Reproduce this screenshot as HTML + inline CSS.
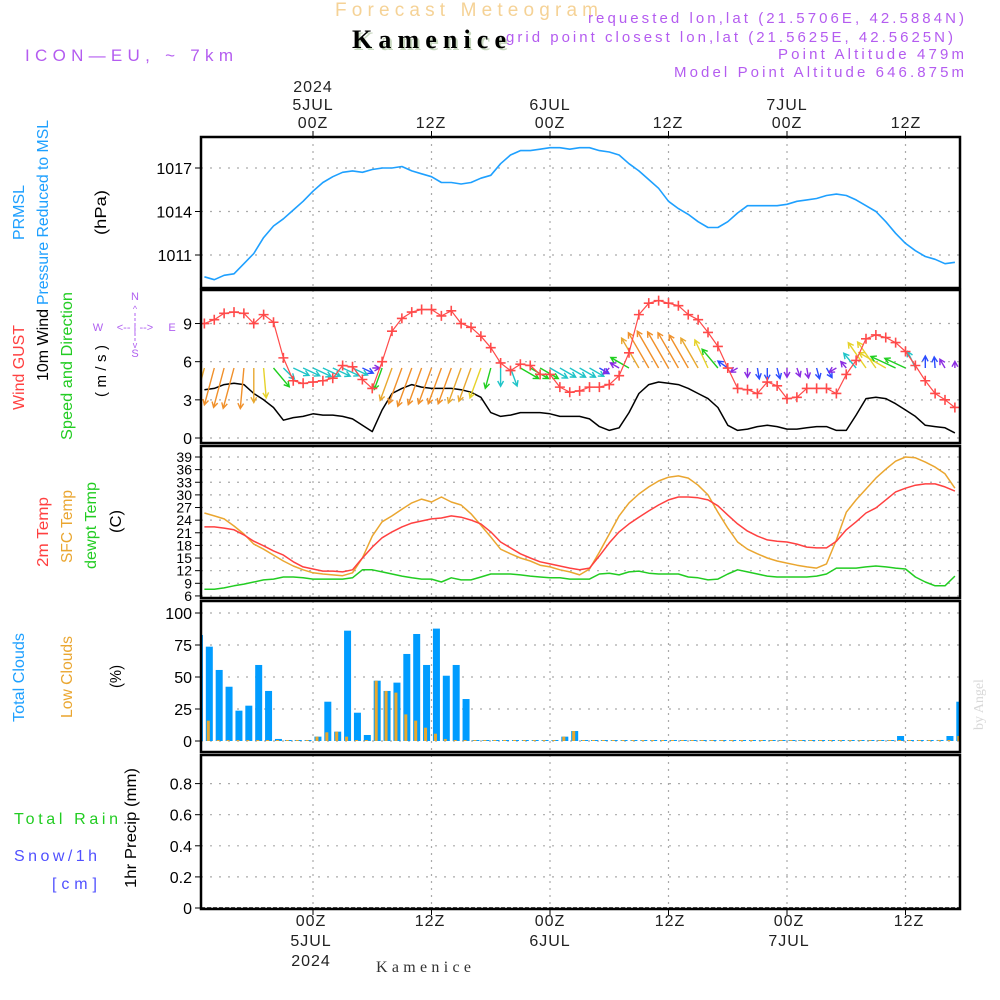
<!DOCTYPE html>
<html><head><meta charset="utf-8"><style>
html,body{margin:0;padding:0;background:#fff;}
svg{display:block;font-family:"Liberation Sans",sans-serif;}
</style></head><body>
<svg id="chart" width="1000" height="1000" viewBox="0 0 1000 1000" xmlns="http://www.w3.org/2000/svg">
<defs>
<clipPath id="cp"><rect x="201" y="137" width="759" height="772"/></clipPath>
</defs>
<g>
<text x="335" y="16" font-size="19" fill="#f5d296" textLength="263" lengthAdjust="spacing">Forecast Meteogram</text>
<text x="354" y="50" font-size="26" font-weight="bold" font-family="Liberation Serif,serif" fill="#c8d8c0" textLength="154" lengthAdjust="spacing">Kamenice</text>
<text x="352" y="48" font-size="26" font-weight="bold" font-family="Liberation Serif,serif" fill="#000" textLength="154" lengthAdjust="spacing">Kamenice</text>
<text x="25" y="61" font-size="17" fill="#b45cf0" textLength="208" lengthAdjust="spacing">ICON—EU, ~ 7km</text>
<g font-size="15" fill="#b45cf0">
<text x="588" y="23" textLength="376" lengthAdjust="spacing">requested lon,lat (21.5706E, 42.5884N)</text>
<text x="506" y="42" textLength="447" lengthAdjust="spacing">grid point closest lon,lat (21.5625E, 42.5625N)</text>
<text x="778" y="59" textLength="186" lengthAdjust="spacing">Point Altitude 479m</text>
<text x="674" y="77" textLength="290" lengthAdjust="spacing">Model Point Altitude 646.875m</text>
</g>
</g>
<g font-size="16" fill="#222" text-anchor="middle" letter-spacing="1">
<text x="313" y="92">2024</text><text x="313" y="110">5JUL</text><text x="313" y="128">00Z</text>
<text x="431" y="128">12Z</text>
<text x="550" y="110">6JUL</text><text x="550" y="128">00Z</text>
<text x="668" y="128">12Z</text>
<text x="787" y="110">7JUL</text><text x="787" y="128">00Z</text>
<text x="906" y="128">12Z</text>
</g>
<g font-size="16" fill="#222" text-anchor="middle" letter-spacing="1">
<text x="311" y="926">00Z</text><text x="311" y="946">5JUL</text><text x="311" y="966">2024</text>
<text x="430" y="926">12Z</text>
<text x="550" y="926">00Z</text><text x="550" y="946">6JUL</text>
<text x="670" y="926">12Z</text>
<text x="789" y="926">00Z</text><text x="789" y="946">7JUL</text>
<text x="909" y="926">12Z</text>
<text x="424" y="972" font-size="16" font-family="Liberation Serif,serif" fill="#333" textLength="96" lengthAdjust="spacing">Kamenice</text>
</g>
<g font-size="16">
<text transform="translate(24,240) rotate(-90)" fill="#1ea0ff" textLength="55" lengthAdjust="spacingAndGlyphs">PRMSL</text>
<text transform="translate(48,305) rotate(-90)" fill="#1ea0ff" textLength="185" lengthAdjust="spacingAndGlyphs">Pressure Reduced to MSL</text>
<text transform="translate(106,235) rotate(-90)" fill="#000" textLength="45" lengthAdjust="spacingAndGlyphs">(hPa)</text>
<text transform="translate(24,410) rotate(-90)" fill="#ff4040" textLength="85" lengthAdjust="spacingAndGlyphs">Wind GUST</text>
<text transform="translate(48,381) rotate(-90)" fill="#000" textLength="72" lengthAdjust="spacingAndGlyphs">10m Wind</text>
<text transform="translate(72,440) rotate(-90)" fill="#22cc22" textLength="148" lengthAdjust="spacingAndGlyphs">Speed and Direction</text>
<text transform="translate(106,397) rotate(-90)" fill="#000" font-size="15" textLength="52" lengthAdjust="spacing">(m/s)</text>
<text transform="translate(48,567) rotate(-90)" fill="#ff4040" textLength="70" lengthAdjust="spacingAndGlyphs">2m Temp</text>
<text transform="translate(72,563) rotate(-90)" fill="#eaa630" textLength="73" lengthAdjust="spacingAndGlyphs">SFC Temp</text>
<text transform="translate(96,569) rotate(-90)" fill="#22cc22" textLength="87" lengthAdjust="spacingAndGlyphs">dewpt Temp</text>
<text transform="translate(121,533) rotate(-90)" fill="#000" textLength="23" lengthAdjust="spacingAndGlyphs">(C)</text>
<text transform="translate(24,722) rotate(-90)" fill="#1ea0ff" textLength="89" lengthAdjust="spacingAndGlyphs">Total Clouds</text>
<text transform="translate(72,718) rotate(-90)" fill="#eaa630" textLength="82" lengthAdjust="spacingAndGlyphs">Low Clouds</text>
<text transform="translate(121,688) rotate(-90)" fill="#000" textLength="23" lengthAdjust="spacingAndGlyphs">(%)</text>
<text transform="translate(136,888) rotate(-90)" fill="#000" textLength="120" lengthAdjust="spacingAndGlyphs">1hr Precip (mm)</text>
<text x="14" y="824" fill="#22cc22" textLength="104" lengthAdjust="spacing">Total   Rain</text>
<text x="14" y="861" fill="#5050ff" textLength="83" lengthAdjust="spacing">Snow/1h</text>
<text x="52" y="889" fill="#5050ff" textLength="45" lengthAdjust="spacing">[cm]</text>
</g>
<g font-size="11" fill="#b060f0" text-anchor="middle">
<text x="135" y="300">N</text><text x="135" y="357">S</text><text x="98" y="331">W</text><text x="172" y="331">E</text>
<text x="135" y="331" font-size="11">&lt;-- | --&gt;</text>
<text x="135" y="312" font-size="9">^</text>
<text x="135" y="348" font-size="9">v</text>
<line x1="135" y1="313" x2="135" y2="342" stroke="#b060f0" stroke-dasharray="3,2"/>
</g>
<text transform="translate(983,730) rotate(-90)" font-size="14" font-family="Liberation Serif,serif" fill="#d8d8d8">by Angel</text>
<g id="grid"></g>
<g id="marks" clip-path="url(#cp)"></g>
<g id="frames"></g>
<g id="ticks"></g>
</svg>
<script>
// time axis: hours relative to 00Z 5JUL
var hours = [];
for (var h = -11; h <= 65; h++) hours.push(h);
var barTimes = [];
for (var b = -11.5; b <= 65.5; b += 1) barTimes.push(b);
var gridHours = [0, 12, 24, 36, 48, 60];

var pressure = [1009.5,1009.3,1009.6,1009.7,1010.4,1011.1,1012.2,1013.0,1013.5,1014.1,
1014.7,1015.4,1016.0,1016.4,1016.7,1016.8,1016.7,1016.9,1017.0,1017.0,
1017.1,1016.8,1016.6,1016.4,1016.0,1016.0,1015.9,1016.0,1016.3,1016.5,
1017.3,1017.9,1018.2,1018.2,1018.3,1018.4,1018.4,1018.3,1018.4,1018.4,
1018.2,1018.1,1017.9,1017.3,1016.8,1016.2,1015.6,1014.7,1014.2,1013.8,
1013.3,1012.9,1012.9,1013.3,1013.9,1014.4,1014.4,1014.4,1014.4,1014.5,
1014.7,1014.8,1014.9,1015.1,1015.2,1015.1,1014.8,1014.4,1014.0,1013.3,
1012.5,1011.8,1011.3,1010.9,1010.7,1010.4,1010.5];
var gust = [9.0,9.3,9.8,9.9,9.8,9.0,9.7,9.1,6.3,4.5,
4.3,4.4,4.5,4.7,5.7,5.6,4.6,3.9,6.0,8.4,
9.4,9.9,10.1,10.1,9.6,10.0,9.0,8.7,8.0,7.1,
5.9,5.3,5.8,5.7,5.0,5.0,4.0,3.6,3.7,4.0,
4.0,4.2,4.9,6.7,9.7,10.6,10.8,10.6,10.4,9.7,
9.3,8.3,7.2,5.5,3.9,3.8,3.5,4.4,4.1,3.1,
3.2,3.9,3.9,3.9,3.5,5.0,6.1,7.8,8.1,7.9,
7.5,6.8,5.7,4.5,3.5,3.0,2.4];
var windSpeed = [3.8,3.9,4.2,4.3,4.2,3.5,3.0,2.4,1.4,1.6,
1.7,1.9,1.8,1.8,1.7,1.5,1.0,0.5,2.2,3.5,
3.9,4.2,4.0,3.9,3.9,3.9,3.8,3.6,3.2,2.0,
1.7,1.8,2.0,2.0,2.0,1.9,1.7,1.7,1.7,1.5,
0.9,0.6,0.8,2.0,3.5,4.2,4.4,4.3,4.2,3.9,
3.5,3.1,2.4,1.0,0.6,0.7,0.9,1.0,0.9,0.7,
0.7,0.8,0.9,0.9,0.6,0.6,1.8,3.1,3.2,3.1,
2.7,2.2,1.7,1.0,0.9,0.8,0.4];
var windDir = [15,15,15,15,5,0,355,320,
315,295,295,295,295,295,295,295,295,
270,20,
20,20,20,20,20,20,20,20,20,20,
15,0,340,
300,300,300,300,300,300,300,300,300,
45,120,
120,150,150,150,150,150,150,150,155,140,125,60,
0,350,0,345,0,340,350,345,330,
60,140,140,145,145,120,115,115,155,180,175,150,180];
var temp2m = [22.4,22.4,22.1,21.7,20.5,19.0,17.9,16.7,15.7,14.1,
12.9,12.4,11.9,11.9,11.7,12.2,15.0,17.6,19.8,21.2,
22.4,23.3,23.8,24.3,24.5,25.0,24.7,24.0,23.1,21.2,
18.8,17.4,16.0,15.0,14.1,13.6,13.1,12.6,12.2,12.6,
15.5,18.6,21.2,23.1,24.7,26.2,27.6,28.8,29.5,29.5,
29.3,28.8,27.4,25.2,23.1,21.4,20.2,19.3,19.0,18.8,
18.3,17.6,17.4,17.4,19.0,21.7,23.6,25.7,26.9,28.8,
30.7,31.6,32.3,32.6,32.6,31.9,30.9];
var tempSfc = [25.7,25.0,24.3,22.6,20.7,18.3,17.1,15.7,14.3,13.1,
12.2,11.5,11.2,11.0,10.8,11.5,15.0,20.2,23.6,25.0,
26.6,28.1,29.0,28.3,29.5,28.3,27.6,25.5,22.8,20.0,
17.1,16.0,15.0,14.3,13.3,12.9,12.2,11.7,11.0,12.4,
16.4,20.7,25.0,28.1,30.2,31.9,33.3,34.2,34.5,34.0,
32.3,30.0,25.9,22.1,18.8,17.1,16.0,15.0,14.3,13.8,
13.3,12.9,12.6,13.6,19.3,25.9,28.8,31.4,34.0,36.1,
38.0,39.0,38.8,37.8,36.6,35.0,31.6];
var dewpt = [7.6,7.6,7.9,8.4,8.8,9.3,9.8,10.0,10.5,10.5,
10.3,10.0,10.0,10.0,10.0,10.3,12.2,12.2,11.7,11.2,
10.7,10.3,10.0,10.0,9.3,10.3,9.8,9.8,10.5,11.2,
11.2,11.2,11.0,10.7,10.5,10.3,10.3,10.0,10.0,10.0,
11.2,11.4,11.0,11.7,11.9,11.4,11.2,11.2,11.2,10.5,
10.3,9.8,10.0,11.2,12.2,11.7,11.2,10.7,10.5,10.5,
10.5,10.5,10.7,11.2,12.6,12.6,12.6,12.9,13.1,12.9,
12.6,12.4,10.5,9.3,8.4,8.4,10.7];
var totalClouds = [82.8,73.7,55.5,42.4,23.7,27.6,59.4,39.1,1.6,0,
0,0,3.4,30.7,7.3,86.2,22.1,4.7,47.1,39.1,
45.6,68,83.6,59.4,87.8,51,59.4,32.8,0,0,
0,0,0,0,0,0,0,3.4,7.8,0,
0,0,0,0,0,0,0,0,0,0,
0,0,0,0,0,0,0,0,0,0,
0,0,0,0,0,0,0,0,0,0,
0,3.9,0,0,0,0.8,3.9,30.7];
var lowClouds = [18.2,15.9,0,0,0,0,0,0,0,0,
0,0,3.4,6.8,7.3,3.4,0,0,47.1,39.1,
37.8,20.8,15.9,10.4,5.7,1.6,0,0,0,0,
0,0,0,0,0,0,0,3.4,7.8,0,
0,0,0,0,0,0,0,0,0,0,
0,0,0,0,0,0,0,0,0,0,
0,0,0,0,0,0,0,0,0,0,
0,0,0,0,0,0,0,3.9];
var precip = [];
for (var q = 0; q < 78; q++) precip.push(0);

var pTicks = [1011, 1014, 1017];
var wTicks = [0, 3, 6, 9];
var tTicks = [6,9,12,15,18,21,24,27,30,33,36,39];
var cTicks = [0, 25, 50, 75, 100];
var rTicks = [0, 0.2, 0.4, 0.6, 0.8];
var rTickLabels = ["0", "0.2", "0.4", "0.6", "0.8"];

// axis functions
function xT(t){ return 313 + t * 9.875; }
function yP(p){ return 168 + (1017 - p) * 14.5; }
function yW(v){ return 438 - v * 12.72; }
function yT(T){ return 457 + (39 - T) * 4.21; }
function yC(c){ return 741 - c * 1.28; }
function yR(r){ return 908 - r * 155.5; }

var NS = "http://www.w3.org/2000/svg";
function mk(tag, attrs, parent){
  var e = document.createElementNS(NS, tag);
  for (var k in attrs) e.setAttribute(k, attrs[k]);
  parent.appendChild(e);
  return e;
}
var grid = document.getElementById('grid');
var marks = document.getElementById('marks');
var frames = document.getElementById('frames');
var ticks = document.getElementById('ticks');

var panels = [
  {name:'pressure', y0:137, y1:288, vals:pTicks, f:yP, labels:pTicks.map(String)},
  {name:'wind', y0:290, y1:443, vals:wTicks, f:yW, labels:wTicks.map(String)},
  {name:'temperature', y0:446, y1:598, vals:tTicks, f:yT, labels:tTicks.map(String)},
  {name:'clouds', y0:601, y1:752, vals:cTicks, f:yC, labels:cTicks.map(String)},
  {name:'precip', y0:755, y1:909, vals:rTicks, f:yR, labels:rTickLabels}
];
panels.forEach(function(p){
  gridHours.forEach(function(h){
    var l = mk('line', {x1:xT(h), x2:xT(h), y1:p.y0, y2:p.y1, stroke:'#aaa', 'stroke-width':1.2, 'stroke-dasharray':'2,5'}, grid);
    
    
  });
  p.vals.forEach(function(v, i){
    var y = p.f(v);
    var l = mk('line', {x1:201, x2:960, y1:y, y2:y, stroke:'#aaa', 'stroke-width':1.2, 'stroke-dasharray':'2,7'}, grid);
    
    
    var tk = mk('line', {x1:195, x2:201, y1:y, y2:y, stroke:'#000'}, ticks);
    
    
    var tx = mk('text', {x:192, y:y + (p.name === 'temperature' ? 5 : 6), 'text-anchor':'end', 'font-size': p.name === 'temperature' ? 14 : 16, fill:'#000'}, ticks);
    
    
    tx.textContent = p.labels[i];
  });
  var r = mk('rect', {x:201, y:p.y0, width:759, height:p.y1 - p.y0, fill:'none', stroke:'#000', 'stroke-width':2.5}, frames);
  
  
});
gridHours.forEach(function(h){
  var a = mk('line', {x1:xT(h), x2:xT(h), y1:131, y2:137, stroke:'#000'}, ticks);
  
  
  var b = mk('line', {x1:xT(h), x2:xT(h), y1:909, y2:915, stroke:'#000'}, ticks);
  
  
});

function linePath(vals, f){
  return vals.map(function(v, i){ return (i ? 'L' : 'M') + xT(hours[i]).toFixed(1) + ',' + f(v).toFixed(1); }).join(' ');
}
function addLine(vals, f, color, name, w){
  var p = mk('path', {d:linePath(vals, f), fill:'none', stroke:color, 'stroke-width':w || 1.5, 'stroke-linejoin':'round'}, marks);
  
  
}

// pressure
addLine(pressure, yP, '#1ea0ff', 'pressure-line', 1.6);

// cloud bars
barTimes.forEach(function(t, i){
  var x = xT(t);
  var hb = Math.max(totalClouds[i] * 1.28, 1);
  var r = mk('rect', {x:x - 3.5, y:741 - hb, width:7, height:hb, fill:'#009cff'}, marks);
  
  
  var hl = Math.max(lowClouds[i] * 1.28, 1);
  var r2 = mk('rect', {x:x - 2.5, y:741 - hl, width:3, height:hl, fill:'#e8a830'}, marks);
  
  
  var hp = precip[i] * 155.5;
  if (hp > 0) {
    var r3 = mk('rect', {x:x - 3.5, y:908 - hp, width:7, height:hp, fill:'#22cc22'}, marks);
    
    
  }
});
var pl = mk('line', {x1:201, x2:960, y1:yR(0), y2:yR(0), stroke:'#000', 'stroke-width':1.5, 'stroke-dasharray':'4,2'}, marks);



// wind speed line
addLine(windSpeed, yW, '#000', 'wind-speed-line', 1.5);

// wind arrows
function arrowColor(v){
  if (v < 0.9) return '#8a2be2';
  if (v < 1.3) return '#2b4cff';
  if (v < 2.0) return '#1fc4c8';
  if (v < 2.8) return '#1fcf1f';
  if (v < 3.4) return '#e6d22a';
  if (v < 3.9) return '#e8a830';
  return '#f0902a';
}
hours.forEach(function(h, i){
  var x0 = xT(h), y0 = 368;
  var L = windSpeed[i] * 9 + 3;
  var to = (windDir[i] + 180) * Math.PI / 180;
  var dx = Math.sin(to) * L, dy = -Math.cos(to) * L;
  var x1 = x0 + dx, y1 = y0 + dy;
  var ang = Math.atan2(dy, dx);
  var hs = 6;
  var c = arrowColor(windSpeed[i]);
  var d = 'M' + x0.toFixed(1) + ',' + y0 + ' L' + x1.toFixed(1) + ',' + y1.toFixed(1) +
    ' M' + (x1 - hs * Math.cos(ang - 0.5)).toFixed(1) + ',' + (y1 - hs * Math.sin(ang - 0.5)).toFixed(1) +
    ' L' + x1.toFixed(1) + ',' + y1.toFixed(1) +
    ' L' + (x1 - hs * Math.cos(ang + 0.5)).toFixed(1) + ',' + (y1 - hs * Math.sin(ang + 0.5)).toFixed(1);
  var a = mk('path', {d:d, fill:'none', stroke:c, 'stroke-width':1.4}, marks);
  
  
});

// gust line + markers
addLine(gust, yW, '#ff4a4a', 'wind-gust-line', 1.2);
hours.forEach(function(h, i){
  var x = xT(h), y = yW(gust[i]);
  var m = mk('path', {d:'M' + (x - 5) + ',' + y + ' L' + (x + 5) + ',' + y + ' M' + x + ',' + (y - 5) + ' L' + x + ',' + (y + 5), stroke:'#ff4a4a', 'stroke-width':1.6}, marks);
  
  
});

// temperatures
addLine(tempSfc, yT, '#eaa630', 'sfc-temp-line', 1.5);
addLine(temp2m, yT, '#ff4040', 'temp-2m-line', 1.5);
addLine(dewpt, yT, '#22cc22', 'dewpoint-line', 1.5);
</script>
</body></html>
